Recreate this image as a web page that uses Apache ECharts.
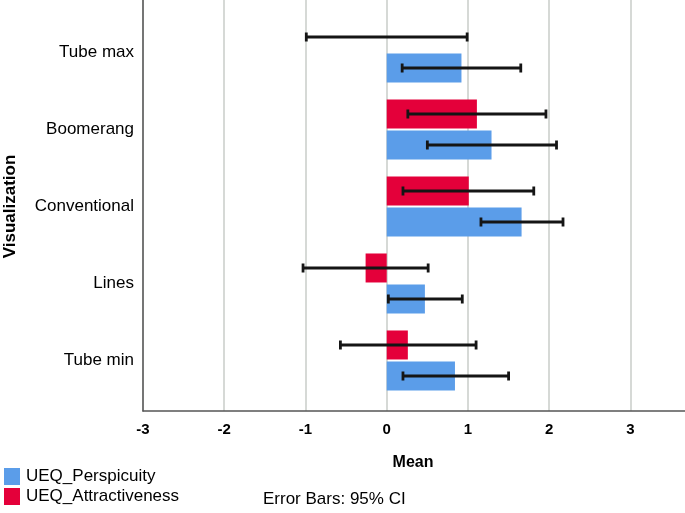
<!DOCTYPE html>
<html>
<head>
<meta charset="utf-8">
<script src="https://cdn.jsdelivr.net/npm/echarts@6/dist/echarts.min.js"></script>
<style>
html,body{margin:0;padding:0;background:#fff;}
#chart{width:685px;height:513px;}
</style>
</head>
<body>
<div id="chart"></div>
<script>
const categories = ['Tube max', 'Boomerang', 'Conventional', 'Lines', 'Tube min'];
const xTicks = [-3, -2, -1, 0, 1, 2, 3];
const attrMean = [0, 1.11, 1.01, -0.26, 0.26];
const attrLow = [-0.99, 0.26, 0.20, -1.03, -0.57];
const attrHigh = [0.99, 1.96, 1.81, 0.51, 1.10];
const perspMean = [0.92, 1.29, 1.66, 0.47, 0.84];
const perspLow = [0.19, 0.50, 1.16, 0.02, 0.20];
const perspHigh = [1.65, 2.09, 2.17, 0.93, 1.50];

const FONT = '"Liberation Sans", Arial, sans-serif';
const RED = '#e4003a';
const BLUE = '#5b9de9';

function errItems(lo, hi) {
  return categories.map((c, i) => [i, lo[i], hi[i]]);
}
function makeErr(offset) {
  return function (params, api) {
    const cat = api.value(0);
    const p1 = api.coord([api.value(1), cat]);
    const p2 = api.coord([api.value(2), cat]);
    const y = p1[1] + offset;
    const st = { stroke: '#151515', lineWidth: 2.8 };
    return {
      type: 'group',
      children: [
        { type: 'line', shape: { x1: p1[0], y1: y, x2: p2[0], y2: y }, style: st },
        { type: 'line', shape: { x1: p1[0], y1: y - 4.5, x2: p1[0], y2: y + 4.5 }, style: st },
        { type: 'line', shape: { x1: p2[0], y1: y - 4.5, x2: p2[0], y2: y + 4.5 }, style: st }
      ]
    };
  };
}

const chart = echarts.init(document.getElementById('chart'));
chart.setOption({
  animation: false,
  backgroundColor: '#fff',
  textStyle: { fontFamily: FONT },
  grid: [
    { left: 143, right: -8, top: 0, height: 411, containLabel: false, outerBoundsMode: 'none' },
    { left: 143, right: -8, top: 14, height: 385, containLabel: false, outerBoundsMode: 'none' }
  ],
  xAxis: [
    {
      gridIndex: 0, type: 'value', min: -3, max: 3.77, interval: 1,
      name: 'Mean', nameLocation: 'middle', nameGap: 44,
      nameTextStyle: { fontFamily: FONT, fontWeight: 'bold', fontSize: 16, color: '#000', padding: [0, 10, 0, 0] },
      axisLine: { show: true, onZero: false, lineStyle: { color: '#555', width: 1.5 } },
      axisTick: { show: false },
      axisLabel: { fontFamily: FONT, fontWeight: 'bold', fontSize: 15, color: '#000', margin: 11, showMaxLabel: false,
        formatter: v => (xTicks.indexOf(v) >= 0 ? String(v) : '') },
      splitLine: { show: true, lineStyle: { color: '#c9cdc9', width: 1.5 } }
    },
    {
      gridIndex: 1, type: 'value', min: -3, max: 3.77, interval: 1,
      show: false, splitLine: { show: false }
    }
  ],
  yAxis: [
    {
      gridIndex: 0, type: 'value', min: 0, max: 1,
      axisLine: { show: true, onZero: false, lineStyle: { color: '#555', width: 1.5 } },
      axisTick: { show: false }, axisLabel: { show: false }, splitLine: { show: false }
    },
    {
      gridIndex: 1, type: 'category', data: categories, inverse: true,
      name: 'Visualization', nameLocation: 'middle', nameGap: 124, nameRotate: 90,
      nameTextStyle: { fontFamily: FONT, fontWeight: 'bold', fontSize: 17, color: '#000' },
      axisLine: { show: false, onZero: false }, axisTick: { show: false },
      axisLabel: { fontFamily: FONT, fontSize: 17, color: '#000', margin: 9 },
      splitLine: { show: false }
    }
  ],
  legend: {
    orient: 'vertical', left: 4, top: 468, height: 45, padding: 0,
    itemWidth: 16, itemHeight: 17, itemGap: 3,
    icon: 'rect', data: ['UEQ_Perspicuity', 'UEQ_Attractiveness'],
    textStyle: { fontFamily: FONT, fontSize: 17, lineHeight: 17, color: '#000', padding: [0, 0, 0, 1] }
  },
  graphic: [
    { type: 'text', left: 263, top: 491, style: { text: 'Error Bars: 95% CI', font: '17px ' + FONT, fill: '#000' } }
  ],
  series: [
    {
      name: 'UEQ_Attractiveness', type: 'bar', xAxisIndex: 1, yAxisIndex: 1,
      data: attrMean, barWidth: 29, barGap: '7%', itemStyle: { color: RED }
    },
    {
      name: 'UEQ_Perspicuity', type: 'bar', xAxisIndex: 1, yAxisIndex: 1,
      data: perspMean, barWidth: 29, barGap: '7%', itemStyle: { color: BLUE }
    },
    {
      type: 'custom', xAxisIndex: 1, yAxisIndex: 1, renderItem: makeErr(-15.5),
      data: errItems(attrLow, attrHigh), encode: { x: [1, 2], y: 0 }, z: 5
    },
    {
      type: 'custom', xAxisIndex: 1, yAxisIndex: 1, renderItem: makeErr(15.5),
      data: errItems(perspLow, perspHigh), encode: { x: [1, 2], y: 0 }, z: 5
    }
  ]
});
</script>
</body>
</html>
